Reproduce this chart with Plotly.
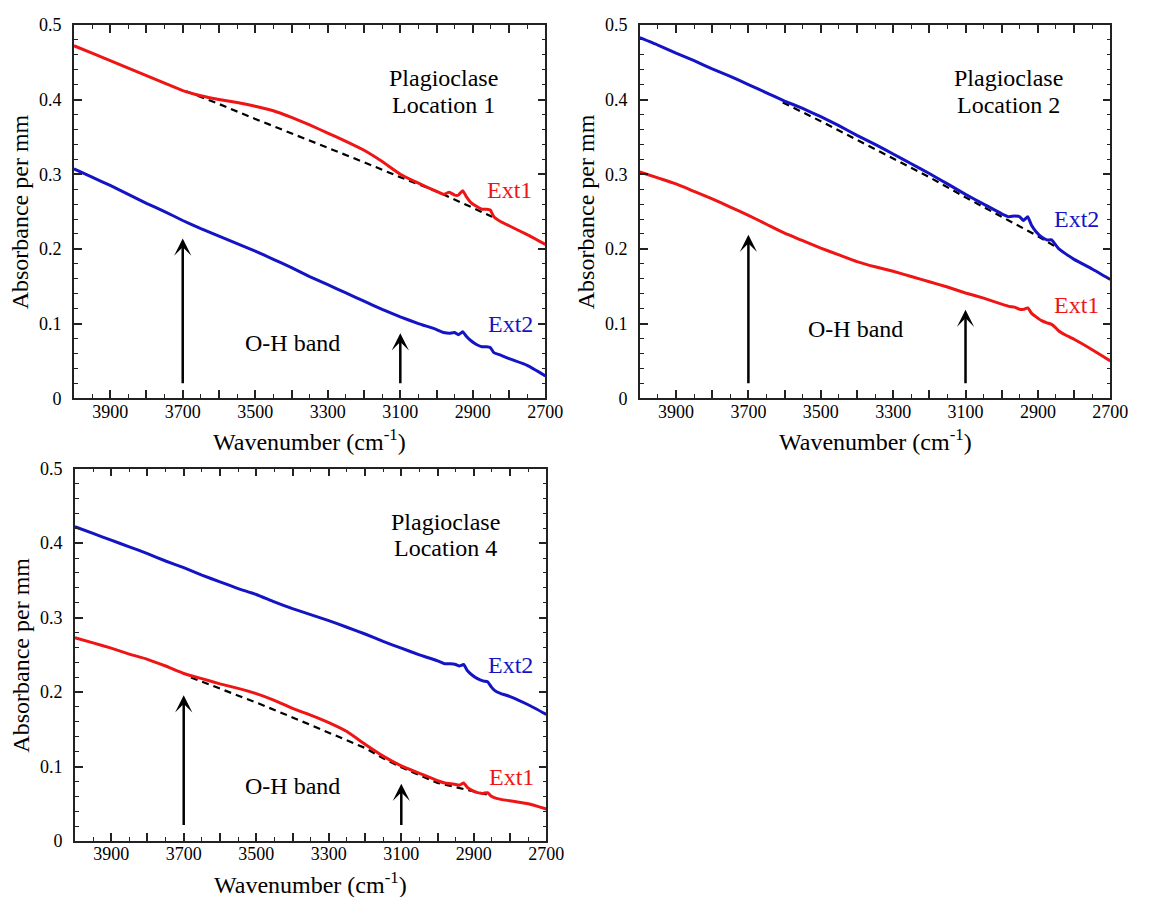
import plotly.graph_objects as go

# page body has an 8px default margin; the figure is sized to fit the window
PAGE_W, PAGE_H = 1153, 905
OFF = 8
W, H = PAGE_W - 2 * OFF, PAGE_H - 2 * OFF

# ---------------- data ----------------
wn = [4000, 3950, 3900, 3850, 3800, 3750, 3700, 3650, 3600, 3550, 3500, 3450,
      3400, 3350, 3300, 3250, 3200, 3150, 3100, 3050, 3000, 2980, 2965, 2950,
      2940, 2928, 2918, 2905, 2890, 2875, 2862, 2852, 2842, 2825, 2800, 2750, 2700]

loc1_ext1 = [0.472, 0.462, 0.452, 0.442, 0.432, 0.422, 0.412, 0.405, 0.400, 0.396,
             0.391, 0.385, 0.376, 0.366, 0.355, 0.344, 0.332, 0.317, 0.300, 0.288,
             0.277, 0.273, 0.276, 0.272, 0.272, 0.278, 0.270, 0.262, 0.257, 0.253,
             0.253, 0.252, 0.243, 0.237, 0.231, 0.219, 0.206]
loc1_ext2 = [0.307, 0.296, 0.285, 0.273, 0.261, 0.250, 0.238, 0.227, 0.217, 0.207,
             0.197, 0.186, 0.175, 0.163, 0.152, 0.141, 0.130, 0.119, 0.109, 0.100,
             0.092, 0.088, 0.087, 0.088, 0.085, 0.089, 0.083, 0.077, 0.072, 0.069,
             0.069, 0.068, 0.061, 0.058, 0.053, 0.044, 0.030]
loc1_base_wn = [3690, 3600, 3500, 3400, 3300, 3200, 3100, 3000, 2900, 2847]
loc1_base = [0.411, 0.394, 0.374, 0.355, 0.336, 0.316, 0.296, 0.277, 0.255, 0.243]

loc2_ext2 = [0.483, 0.473, 0.462, 0.452, 0.441, 0.431, 0.420, 0.409, 0.398, 0.388,
             0.377, 0.365, 0.352, 0.340, 0.327, 0.314, 0.301, 0.287, 0.273, 0.260,
             0.247, 0.243, 0.244, 0.243, 0.238, 0.243, 0.232, 0.223, 0.216, 0.212,
             0.212, 0.206, 0.200, 0.194, 0.186, 0.173, 0.159]
loc2_ext1 = [0.303, 0.295, 0.287, 0.277, 0.267, 0.256, 0.245, 0.233, 0.221, 0.211,
             0.201, 0.192, 0.183, 0.176, 0.170, 0.163, 0.156, 0.149, 0.141, 0.134,
             0.126, 0.123, 0.122, 0.119, 0.119, 0.121, 0.114, 0.109, 0.104, 0.101,
             0.099, 0.095, 0.090, 0.085, 0.079, 0.065, 0.050]
loc2_base_wn = [3605, 3500, 3400, 3300, 3200, 3100, 3000, 2900, 2848]
loc2_base = [0.396, 0.371, 0.346, 0.321, 0.296, 0.269, 0.243, 0.217, 0.202]

loc4_ext2 = [0.422, 0.413, 0.404, 0.395, 0.386, 0.376, 0.367, 0.357, 0.348, 0.339,
             0.331, 0.321, 0.312, 0.304, 0.296, 0.287, 0.278, 0.268, 0.259, 0.250,
             0.242, 0.238, 0.238, 0.237, 0.235, 0.237, 0.229, 0.223, 0.218, 0.215,
             0.214, 0.207, 0.202, 0.198, 0.194, 0.183, 0.170]
loc4_ext1 = [0.273, 0.266, 0.259, 0.251, 0.244, 0.235, 0.225, 0.218, 0.211, 0.205,
             0.198, 0.189, 0.178, 0.169, 0.159, 0.147, 0.130, 0.114, 0.101, 0.091,
             0.081, 0.078, 0.077, 0.076, 0.075, 0.078, 0.072, 0.068, 0.065, 0.064,
             0.065, 0.060, 0.058, 0.056, 0.054, 0.050, 0.043]
loc4_base_wn = [3680, 3600, 3500, 3400, 3300, 3200, 3150, 3100, 3000, 2950, 2900, 2850]
loc4_base = [0.2196, 0.205, 0.186, 0.166, 0.146, 0.125, 0.111, 0.099, 0.078, 0.072, 0.067, 0.061]

x_tickvals = list(range(4000, 2699, -100))
x_ticktext = ["" if v % 200 == 0 else str(v) for v in x_tickvals]
y_tickvals = [0, 0.1, 0.2, 0.3, 0.4, 0.5]
y_ticktext = ["0", "0.1", "0.2", "0.3", "0.4", "0.5"]

mineral = "Plagioclase"
locations = ["Location 1", "Location 2", "Location 4"]
mineral_pos = [(2980, 0.429), (2980, 0.429), (2979, 0.429)]
location_pos = [(2980, 0.393), (2980, 0.393), (2979, 0.394)]
ext1_pos = [(2798, 0.279), (2794, 0.125), (2797, 0.0857)]
ext2_pos = [(2795, 0.0996), (2794, 0.2406), (2800, 0.237)]
oh_pos = [(3398, 0.0734), (3403, 0.0933), (3400, 0.074)]
arrow_x = [3700, 3100]
arrow_start = [0.018, 0.018, 0.0196]
arrow_tips = [[0.214, 0.087], [0.219, 0.1186], [0.1957, 0.077]]

RED = "#f01515"
BLUE = "#1414c4"
AX = "#222222"
FONT = "Liberation Serif"
TXT = 24

# panel pixel boxes in the page: (left, right, top, bottom)
boxes = [(75, 554, 15, 397), (650, 1128, 15, 397), (76, 555, 469, 850)]


def px_x(p):
    return (p - OFF) / W


def px_y(p):
    return 1 - (p - OFF) / H


fig = go.Figure()

series = [
    (loc1_ext1, loc1_ext2, loc1_base_wn, loc1_base),
    (loc2_ext1, loc2_ext2, loc2_base_wn, loc2_base),
    (loc4_ext1, loc4_ext2, loc4_base_wn, loc4_base),
]

annotations = []
for i, (e1, e2, bwn, bv) in enumerate(series):
    xa = "x" if i == 0 else f"x{i+1}"
    ya = "y" if i == 0 else f"y{i+1}"
    fig.add_trace(go.Scatter(x=bwn, y=bv, mode="lines", xaxis=xa, yaxis=ya,
                             line=dict(color="black", width=2.2, dash="7px,5px"),
                             showlegend=False, hoverinfo="skip"))
    fig.add_trace(go.Scatter(x=wn, y=e2, mode="lines", xaxis=xa, yaxis=ya,
                             line=dict(color=BLUE, width=3, shape="spline", smoothing=0.4),
                             showlegend=False))
    fig.add_trace(go.Scatter(x=wn, y=e1, mode="lines", xaxis=xa, yaxis=ya,
                             line=dict(color=RED, width=3, shape="spline", smoothing=0.4),
                             showlegend=False))

    annotations.append(dict(x=mineral_pos[i][0], y=mineral_pos[i][1], xref=xa, yref=ya,
                            text=mineral, showarrow=False,
                            font=dict(size=TXT, color="black", family=FONT)))
    annotations.append(dict(x=location_pos[i][0], y=location_pos[i][1], xref=xa, yref=ya,
                            text=locations[i], showarrow=False,
                            font=dict(size=TXT, color="black", family=FONT)))
    annotations.append(dict(x=ext1_pos[i][0], y=ext1_pos[i][1], xref=xa, yref=ya,
                            text="Ext1", showarrow=False,
                            font=dict(size=TXT, color=RED, family=FONT)))
    annotations.append(dict(x=ext2_pos[i][0], y=ext2_pos[i][1], xref=xa, yref=ya,
                            text="Ext2", showarrow=False,
                            font=dict(size=TXT, color=BLUE, family=FONT)))
    annotations.append(dict(x=oh_pos[i][0], y=oh_pos[i][1], xref=xa, yref=ya,
                            text="O-H band", showarrow=False,
                            font=dict(size=TXT, color="black", family=FONT)))
    for ax_x, tip in zip(arrow_x, arrow_tips[i]):
        annotations.append(dict(x=ax_x, y=tip, xref=xa, yref=ya,
                                ax=ax_x, ay=arrow_start[i], axref=xa, ayref=ya,
                                text="", showarrow=True, arrowhead=3, arrowsize=1.15,
                                arrowwidth=2.5, arrowcolor="black", standoff=0))

    l, r, t, b = boxes[i]
    annotations.append(dict(x=px_x((l + r) / 2), y=px_y(b + 43), xref="paper", yref="paper",
                            text="Wavenumber (cm<sup>-1</sup>)", showarrow=False,
                            xanchor="center", yanchor="middle",
                            font=dict(size=TXT, color="black", family=FONT)))
    annotations.append(dict(x=px_x(l - 55), y=px_y((t + b) / 2), xref="paper", yref="paper",
                            text="Absorbance per mm", showarrow=False, textangle=-90,
                            xanchor="center", yanchor="middle",
                            font=dict(size=TXT, color="black", family=FONT)))

    xaxis = dict(domain=[px_x(l), px_x(r)], anchor=ya, range=[4000, 2700],
                 tickmode="array", tickvals=x_tickvals, ticktext=x_ticktext,
                 ticks="inside", ticklen=8, tickwidth=1.5, tickcolor=AX,
                 showline=True, linecolor=AX, linewidth=1.5, mirror="ticks",
                 showgrid=False, zeroline=False, ticklabelstandoff=-4,
                 minor=dict(ticks="inside", tickmode="linear", tick0=2700, dtick=50,
                            ticklen=4, tickwidth=1.2, tickcolor=AX, showgrid=False),
                 tickfont=dict(size=18, color="black", family=FONT))
    yaxis = dict(domain=[px_y(b), px_y(t)], anchor=xa, range=[0, 0.5],
                 tickmode="array", tickvals=y_tickvals, ticktext=y_ticktext,
                 ticks="inside", ticklen=8, tickwidth=1.5, tickcolor=AX,
                 showline=True, linecolor=AX, linewidth=1.5, mirror="ticks",
                 showgrid=False, zeroline=False, ticklabelstandoff=7,
                 minor=dict(ticks="inside", tickmode="linear", tick0=0, dtick=0.02,
                            ticklen=4, tickwidth=1.2, tickcolor=AX, showgrid=False),
                 tickfont=dict(size=18, color="black", family=FONT))
    key = "" if i == 0 else str(i + 1)
    fig.layout["xaxis" + key] = xaxis
    fig.layout["yaxis" + key] = yaxis

fig.update_layout(width=W, height=H, margin=dict(l=0, r=0, t=0, b=0),
                  paper_bgcolor="white", plot_bgcolor="white",
                  font=dict(family=FONT, color="black"),
                  annotations=annotations, showlegend=False)

fig.write_html("out.html")
